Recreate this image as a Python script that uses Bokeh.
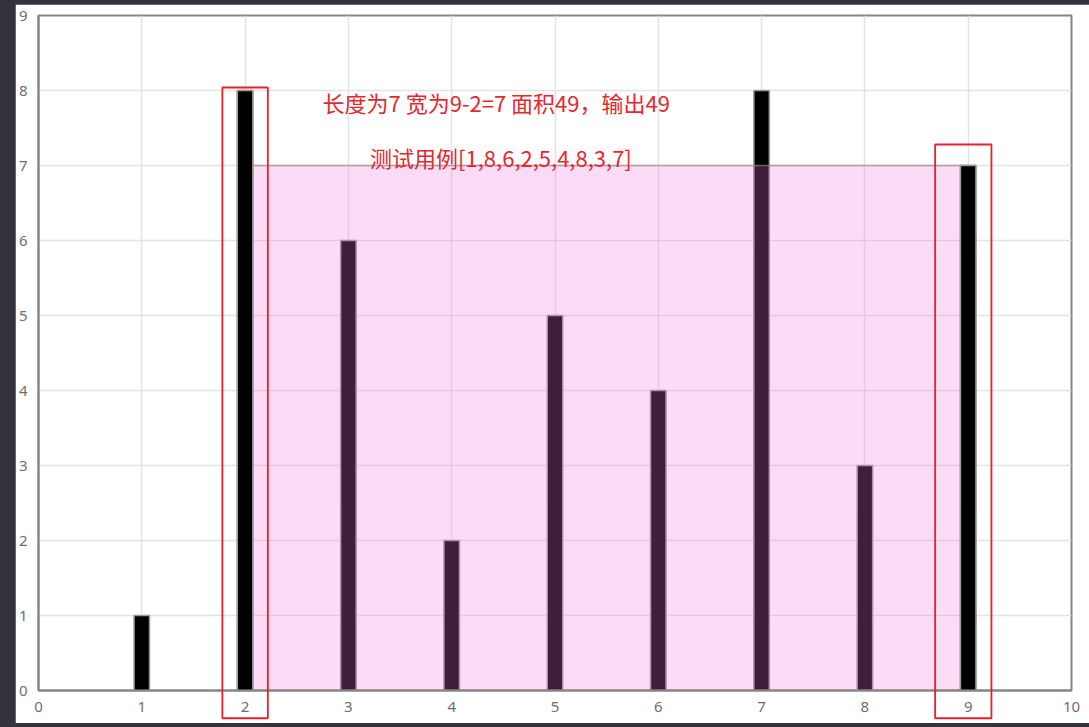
from bokeh.plotting import figure
from bokeh.models import Range1d, Label, FixedTicker
from bokeh.layouts import column
from bokeh.embed import file_html
from bokeh.resources import INLINE

# ---- data ----
positions = [1, 2, 3, 4, 5, 6, 7, 8, 9]
heights = [1, 8, 6, 2, 5, 4, 8, 3, 7]
chosen = [2, 9]
chosen_heights = [8, 7]
area_left, area_right, area_top = 2, 9, 7
x_ticks = list(range(0, 11))
y_ticks = list(range(0, 10))
box_left = [1.78, 8.68]
box_right = [2.22, 9.225]
box_top = [8.04, 7.28]
box_bottom = [-0.37, -0.37]
line1 = "长度为7 宽为9-2=7 面积49，输出49"
line2 = "测试用例[1,8,6,2,5,4,8,3,7]"

p = figure(width=1074, height=719, output_backend="svg", toolbar_location=None,
           x_range=Range1d(0, 10), y_range=Range1d(0, 9),
           min_border_left=21, min_border_top=11, min_border_right=18, min_border_bottom=33,
           background_fill_color="white", border_fill_color="white")
p.outline_line_color = "#858585"
p.outline_line_width = 2

for ax in (p.xaxis, p.yaxis):
    ax.major_tick_line_color = None
    ax.minor_tick_line_color = None
    ax.axis_line_color = "#858585"
    ax.axis_line_width = 2
    ax.major_label_text_color = "#6e6e6e"
    ax.major_label_text_font = "Noto Sans"
    ax.major_label_text_font_size = "15px"
    ax.major_label_standoff = 5
p.xaxis.ticker = FixedTicker(ticks=x_ticks)
p.yaxis.ticker = FixedTicker(ticks=y_ticks)
p.xgrid.ticker = FixedTicker(ticks=x_ticks)
p.ygrid.ticker = FixedTicker(ticks=y_ticks)
p.grid.grid_line_color = "#e3e3e3"
p.grid.grid_line_width = 1.5

# all bars
p.vbar(x=positions, top=heights, bottom=0, width=0.15, fill_color="black",
       line_color="#9a9a9a", line_width=1.5)
# water area
p.quad(left=[area_left], right=[area_right], bottom=[0], top=[area_top],
       fill_color="#EF74D8", fill_alpha=0.26, line_color="#8a8a8a", line_alpha=0.7, line_width=1.5)
# chosen walls on top
p.vbar(x=chosen, top=chosen_heights, bottom=0, width=0.15, fill_color="black",
       line_color="#9a9a9a", line_width=1.5)
# red highlight boxes (extend outside frame)
p.quad(left=box_left, right=box_right, top=box_top, bottom=box_bottom,
       fill_color=None, line_color="#E8202A", line_width=1.8, level="overlay")

p.add_layout(Label(x=2.75, y=7.85, text=line1, text_color="#E8262E",
                   text_font="Noto Sans CJK SC", text_font_size="22px", text_baseline="middle"))
p.add_layout(Label(x=3.21, y=7.11, text=line2, text_color="#E8262E",
                   text_font="Noto Sans CJK SC", text_font_size="22px", text_baseline="middle"))

p.margin = (4, 0, 4, 15)
layout = column(p, width=1089, height=727, styles={"background-color": "#33333d"})

open("out.html", "w").write(file_html(layout, INLINE))
